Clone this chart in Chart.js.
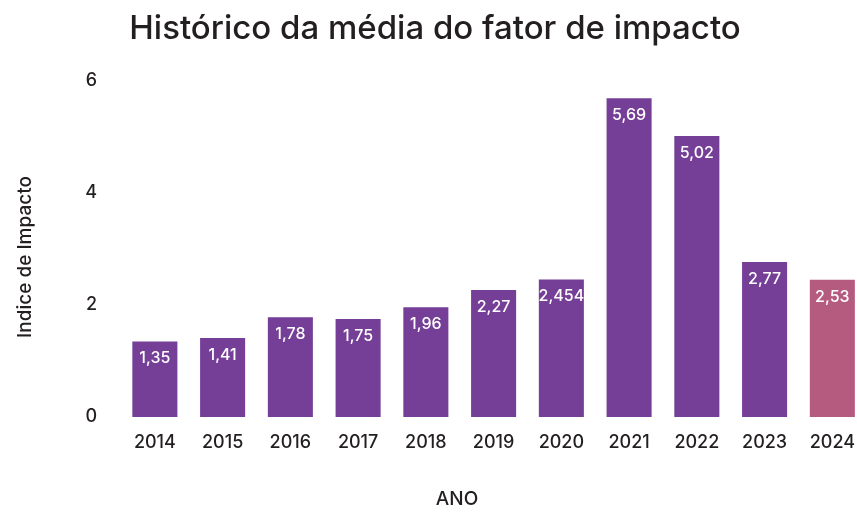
<!DOCTYPE html>
<html>
<head>
<meta charset="utf-8">
<script src="https://cdn.jsdelivr.net/npm/chart.js@4"></script>
<style>
  html, body { margin: 0; padding: 0; background: #fff; overflow: hidden; }
  #wrap { width: 870px; height: 512px; }
</style>
</head>
<body>
<div id="wrap"><canvas id="chart"></canvas></div>
<script>
const years = ['2014', '2015', '2016', '2017', '2018', '2019', '2020', '2021', '2022', '2023', '2024'];
// bar heights as drawn in the reference
const impactValues = [1.35, 1.41, 1.78, 1.75, 1.96, 2.27, 2.454, 5.69, 5.02, 2.77, 2.45];
// printed labels (the 2024 bar is labelled 2,53)
const valueLabels = ['1,35', '1,41', '1,78', '1,75', '1,96', '2,27', '2,454', '5,69', '5,02', '2,77', '2,53'];
const yTicks = [0, 2, 4, 6];
const xTitle = 'ANO';
const yTitle = 'Indice de Impacto';

const purple = '#753e97';
const pink = '#b55b80';
const textColor = '#231f20';
const fontFamily = 'Inter, "Open Sans", sans-serif';

// white value text near the top of each bar, plus the two axis titles
const barLabels = {
    id: 'barLabels',
    afterDatasetsDraw(chart) {
        const ctx = chart.ctx;
        const meta = chart.getDatasetMeta(0);
        const area = chart.chartArea;
        ctx.save();
        ctx.fillStyle = '#ffffff';
        ctx.font = '500 16px ' + fontFamily;
        ctx.textAlign = 'center';
        ctx.textBaseline = 'middle';
        meta.data.forEach((bar, i) => {
            ctx.fillText(valueLabels[i], bar.x, bar.y + 17);
        });

        ctx.fillStyle = textColor;
        ctx.font = '500 19px ' + fontFamily;
        ctx.fillText(xTitle, 457, 499);

        ctx.translate(25, (area.top + area.bottom) / 2 + 8);
        ctx.rotate(-Math.PI / 2);
        ctx.fillText(yTitle, 0, 0);
        ctx.restore();
    }
};

new Chart(document.getElementById('chart'), {
    type: 'bar',
    data: {
        labels: years,
        datasets: [{
            data: impactValues,
            backgroundColor: years.map((y, i) => i === years.length - 1 ? pink : purple),
            barPercentage: 0.665,
            categoryPercentage: 1.0
        }]
    },
    options: {
        responsive: true,
        maintainAspectRatio: false,
        animation: false,
        layout: { padding: 0 },
        plugins: {
            legend: { display: false },
            tooltip: { enabled: false },
            title: {
                display: true,
                text: 'Histórico da média do fator de impacto',
                color: textColor,
                font: { family: fontFamily, size: 33, weight: '500' },
                padding: { top: 9, bottom: 32.4 }
            }
        },
        scales: {
            x: {
                grid: { display: false, drawTicks: false },
                border: { display: false },
                ticks: { color: textColor, font: { family: fontFamily, size: 18, weight: '500' }, padding: 15 },
                afterFit(scale) { scale.height = 95; }
            },
            y: {
                min: 0,
                max: 6,
                grid: { display: false, drawTicks: false },
                border: { display: false },
                afterBuildTicks(scale) { scale.ticks = yTicks.map(v => ({ value: v })); },
                ticks: { color: textColor, font: { family: fontFamily, size: 18, weight: '500' }, padding: 24 },
                afterFit(scale) { scale.width = 121; }
            }
        }
    },
    plugins: [barLabels]
});
</script>
</body>
</html>
